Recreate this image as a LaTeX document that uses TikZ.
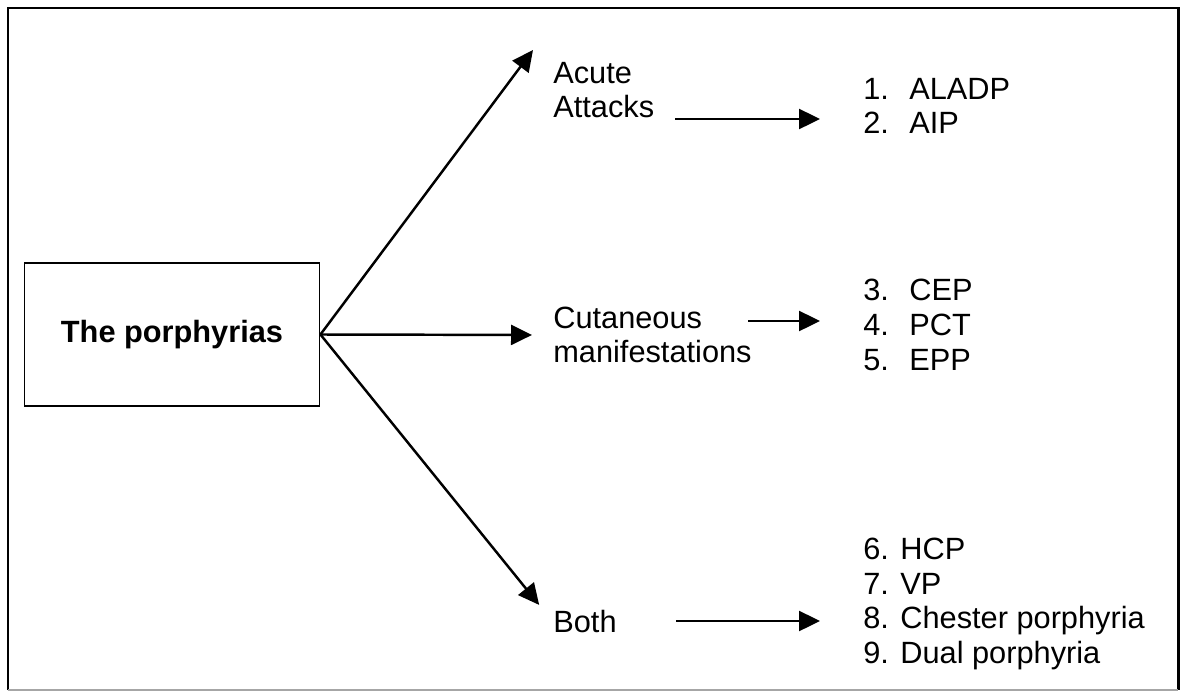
\documentclass[tikz,border=0pt]{standalone}
\usepackage{fontspec}
\setmainfont{Liberation Sans}
\usetikzlibrary{arrows.meta}
\newcommand{\itm}[1]{\makebox[0.92cm][l]{#1}}

\begin{document}
\begin{tikzpicture}[x=0.02cm, y=-0.02cm,
    font=\fontsize{17.5}{19.8}\selectfont,
    arr/.style={line width=1.4pt, -{Triangle[length=4.2mm, width=4mm]}},
    mainbox/.style={draw, line width=1.1pt, minimum width=5.9cm, minimum height=2.86cm},
    cat/.style={anchor=west, inner sep=0pt, align=left},
    lst/.style={anchor=west, inner sep=0pt, align=left}]
    \useasboundingbox (0,0) rectangle (1181,697);
    % outer frame
    \draw[line width=1.7pt] (8,690) -- (8,8) -- (1178,8) -- (1178,690);
    \draw[line width=1pt, black!35] (8,690) -- (1178,690);
    \node[mainbox] (porph) at (172,334.5) {\bfseries The porphyrias};
    \node[cat] (acute) at (553,90) {Acute\\Attacks};
    \node[cat] (cutan) at (553,335) {Cutaneous\\manifestations};
    \node[cat] (both) at (553,622) {Both};
    \node[lst] (acuteList) at (863,106) {\itm{1.}ALADP\\\itm{2.}AIP};
    \node[lst] (cutanList) at (863,325) {\itm{3.}CEP\\\itm{4.}PCT\\\itm{5.}EPP};
    \node[lst] (bothList) at (863,604) {6. HCP\\7. VP\\8. Chester porphyria\\9. Dual porphyria};
    \coordinate (acuteIn) at (533,50);
    \coordinate (acuteOut) at (675,119);
    \coordinate (acuteTo) at (820,119);
    \coordinate (cutanOut) at (748,321);
    \coordinate (cutanTo) at (820,321);
    \coordinate (bothOut) at (676,621);
    \coordinate (bothTo) at (820,621);
    \draw[arr] (porph.east) -- (acuteIn);
    \draw[arr, shorten >=0.42cm] (porph.east) -- (cutan.west);
    \draw[arr, shorten >=0.44cm] (porph.east) -- (both.west);
    \draw[arr] (acuteOut) -- (acuteTo);
    \draw[arr] (cutanOut) -- (cutanTo);
    \draw[arr] (bothOut) -- (bothTo);
\end{tikzpicture}
\end{document}
